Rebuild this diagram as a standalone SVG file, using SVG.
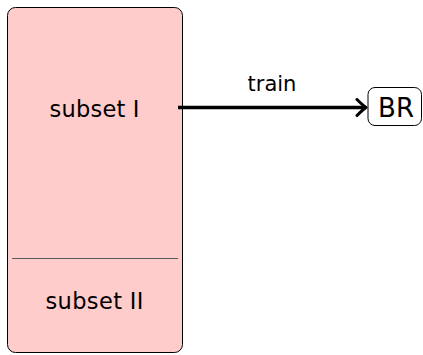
<svg xmlns="http://www.w3.org/2000/svg" width="423" height="355" viewBox="0 0 423 355">
  <style>
    .lbl { font-family: "DejaVu Sans", "Liberation Sans", sans-serif; fill: #000; text-anchor: middle; }
    .part { fill: #ffcccc; stroke: #000; stroke-width: 1; }
    .sep { stroke: #5a5a5a; stroke-width: 1; }
    .node { fill: #fff; stroke: #000; stroke-width: 1; }
    .edge { stroke: #000; stroke-width: 3.5; fill: none; }
  </style>
  <defs>
    <marker id="tip" markerUnits="userSpaceOnUse" viewBox="-12 -10 14 20" refX="0" refY="0" markerWidth="14" markerHeight="20" orient="auto">
      <path d="M -9 -8 Q -3 -2 0 0 Q -3 2 -9 8" fill="none" stroke="#000" stroke-width="3" stroke-linecap="round" stroke-linejoin="round"/>
    </marker>
  </defs>

  <g id="dataset">
    <rect class="part" x="7.5" y="7.5" width="175" height="345" rx="8" ry="8"/>
    <line class="sep" x1="12" y1="258.5" x2="178" y2="258.5"/>
    <text class="lbl" x="94.5" y="117" font-size="22.5" textLength="90" lengthAdjust="spacing">subset I</text>
    <text class="lbl" x="94.5" y="309" font-size="22.5" textLength="98" lengthAdjust="spacing">subset II</text>
  </g>

  <g id="br">
    <rect class="node" x="368" y="87.5" width="53.5" height="38" rx="7" ry="7"/>
    <text class="lbl" x="396" y="116.5" font-size="26">BR</text>
  </g>

  <g id="connectors">
    <line class="edge" x1="178" y1="107.5" x2="366" y2="107.5" marker-end="url(#tip)"/>
    <text class="lbl" x="272" y="91" font-size="21">train</text>
  </g>
</svg>
